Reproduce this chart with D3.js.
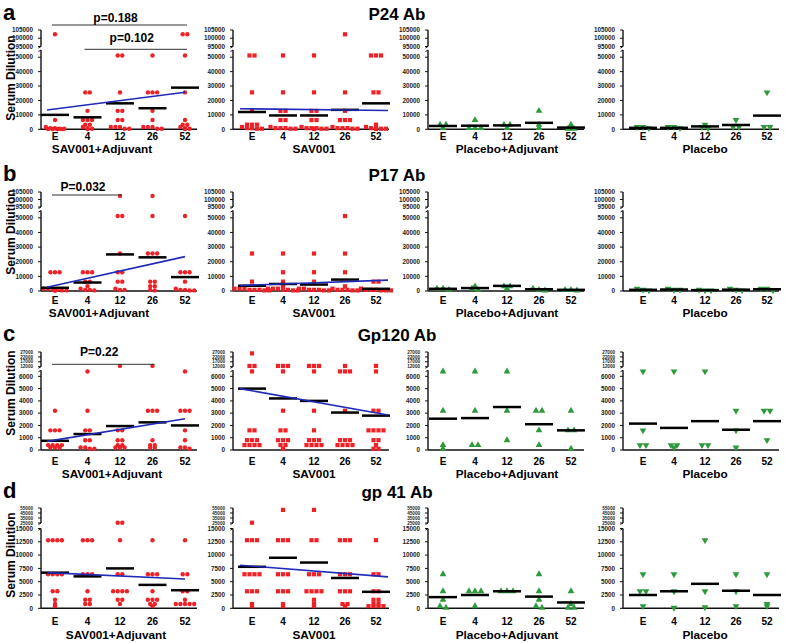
<!DOCTYPE html>
<html>
<head>
<meta charset="utf-8">
<style>
  body { margin: 0; background: #fff; }
  svg { display: block; font-family: "Liberation Sans", Arial, sans-serif; }
</style>
</head>
<body>
<div id="chart"></div>
<script src="https://cdnjs.cloudflare.com/ajax/libs/d3/7.8.5/d3.min.js"></script>
<script>
// ---- data ----
var timepoints = ['E', '4', '12', '26', '52'];
var groups = ['SAV001+Adjuvant', 'SAV001', 'Placebo+Adjuvant', 'Placebo'];
var antibodies = ['P24 Ab', 'P17 Ab', 'Gp120 Ab', 'gp 41 Ab'];
var panelLetters = ['a', 'b', 'c', 'd'];

// values[group][timepoint] = serum dilutions of each subject
var p24Values = [
  [[102400, 6400, 1600, 800, 800, 400, 400, 200, 200, 100, 100],
   [25600, 25600, 12800, 6400, 6400, 6400, 3200, 3200, 1600, 800, 400, 200],
   [51200, 51200, 25600, 12800, 12800, 6400, 6400, 1600, 1600, 1600, 400, 400],
   [51200, 25600, 25600, 25600, 12800, 6400, 1600, 1600, 1600, 400, 400],
   [102400, 102400, 51200, 25600, 6400, 3200, 3200, 1600, 800, 400, 200]],
  [[51200, 51200, 25600, 12800, 3200, 3200, 3200, 1600, 800, 800, 400, 400],
   [51200, 25600, 12800, 12800, 6400, 6400, 1600, 800, 800, 800, 400, 400],
   [51200, 25600, 12800, 12800, 6400, 6400, 1600, 800, 800, 800, 400, 400, 200],
   [102400, 25600, 12800, 6400, 6400, 6400, 1600, 800, 800, 800, 400, 400],
   [51200, 51200, 51200, 25600, 25600, 3200, 1600, 800, 800, 400, 400, 200]],
  [[3200, 3200, 800], [6400, 800, 800, 800], [3200, 3200, 800], [12800, 3200, 800], [3200, 400, 400]],
  [[1600, 1600, 800], [1600, 1600, 800], [3200, 1600, 800], [6400, 1600, 1600], [25600, 1600, 1600]]
];
var p24Means = [[10000, 8300, 18000, 14600, 28900], [12000, 9600, 9600, 13500, 18000],
                [2300, 2500, 2700, 4500, 1200], [1000, 1000, 2000, 3000, 9500]];
var p24Trend = [[13400, 25700], [14300, 13000], null, null];

var p17Values = [
  [[12800, 12800, 12800, 1600, 1600, 800, 800, 400, 400, 200],
   [12800, 12800, 12800, 6400, 6400, 3200, 1600, 800, 800, 400],
   [102400, 51200, 51200, 25600, 12800, 12800, 6400, 6400, 1600, 800, 800],
   [102400, 51200, 25600, 25600, 25600, 6400, 6400, 3200, 3200, 800, 400],
   [51200, 12800, 12800, 12800, 6400, 1600, 800, 800, 400, 400]],
  [[25600, 6400, 1600, 1600, 1600, 800, 800, 800, 400, 400],
   [25600, 12800, 6400, 3200, 1600, 1600, 1600, 800, 800, 400, 400],
   [25600, 12800, 6400, 1600, 1600, 800, 800, 800, 400, 400],
   [51200, 25600, 12800, 3200, 1600, 800, 800, 800, 400, 400],
   [6400, 6400, 1600, 800, 800, 800, 400, 400, 400]],
  [[1600, 1600, 800], [3200, 1600, 800], [3200, 3200, 1600], [1600, 800, 400], [800, 800, 400]],
  [[1600, 800, 400], [1600, 800, 800], [800, 400, 400], [1600, 800, 400], [1600, 1600, 400]]
];
var p17Means = [[2200, 5800, 25000, 23000, 9500], [3600, 4800, 4400, 7800, 1500],
                [1500, 2000, 3500, 1200, 800], [800, 1000, 600, 900, 1200]];
var p17Trend = [[2500, 23500], [3800, 7400], null, null];

var gp120Values = [
  [[3200, 1600, 1600, 1600, 400, 400, 400, 400, 200, 200, 200],
   [6400, 3200, 1600, 1600, 800, 800, 200, 200, 100, 100],
   [12800, 1600, 1600, 800, 800, 400, 400, 200, 200, 200],
   [12800, 3200, 3200, 3200, 800, 400, 400, 200, 200],
   [6400, 3200, 3200, 3200, 1600, 800, 200, 200, 100]],
  [[25600, 12800, 12800, 6400, 1600, 1600, 800, 800, 800, 400, 400, 400, 400],
   [12800, 12800, 12800, 6400, 3200, 1600, 1600, 800, 800, 800, 400, 400, 100],
   [12800, 12800, 12800, 6400, 3200, 1600, 800, 800, 800, 400, 400, 400, 400],
   [12800, 6400, 6400, 6400, 3200, 800, 800, 800, 400, 400, 400, 400],
   [12800, 6400, 3200, 3200, 1600, 1600, 1600, 1600, 800, 800, 400, 100, 100]],
  [[6400, 3200, 400, 100], [6400, 3200, 400, 400], [6400, 3200, 800], [3200, 3200, 1600, 400], [3200, 1600, 1600, 100]],
  [[6400, 1600, 400, 400], [6400, 400, 400, 200], [6400, 400, 400], [3200, 1600, 200], [3200, 3200, 800]]
];
var gp120Means = [[750, 1300, 1950, 2250, 2000], [5000, 4200, 4000, 3050, 2800],
                  [2550, 2600, 3500, 2100, 1600], [2150, 1800, 2350, 1650, 2350]];
var gp120Trend = [[700, 2550], [5000, 2850], null, null];

var gp41Values = [
  [[12800, 12800, 12800, 12800, 6400, 6400, 6400, 6400, 3200, 3200, 1600, 800, 400],
   [12800, 12800, 12800, 6400, 6400, 6400, 3200, 1600, 1600, 800, 800],
   [25600, 25600, 12800, 6400, 6400, 3200, 3200, 3200, 3200, 1600, 1600, 800],
   [12800, 6400, 6400, 6400, 3200, 1600, 1600, 1600, 800, 800, 400],
   [12800, 6400, 6400, 3200, 3200, 1600, 800, 800, 800, 800, 800]],
  [[25600, 12800, 12800, 12800, 6400, 6400, 6400, 6400, 3200, 3200, 3200, 800, 400],
   [51200, 12800, 12800, 12800, 6400, 6400, 6400, 3200, 3200, 3200, 800, 400],
   [51200, 12800, 12800, 6400, 6400, 6400, 3200, 3200, 3200, 3200, 1600, 800, 400],
   [12800, 12800, 12800, 6400, 6400, 6400, 3200, 3200, 3200, 800, 800, 400],
   [12800, 6400, 6400, 3200, 3200, 1600, 1600, 800, 800, 400, 400, 400, 400]],
  [[6400, 3200, 1600, 400, 100], [3200, 3200, 3200, 400], [3200, 3200, 3200], [6400, 3200, 1600, 400, 100], [3200, 800, 100, 100]],
  [[6400, 3200, 3200, 400], [6400, 3200, 100], [12800, 3200, 200], [6400, 3200, 400], [6400, 800, 400]]
];
var gp41Means = [[6700, 6000, 7500, 4400, 3400], [7800, 9500, 8600, 5700, 3100],
                 [2100, 2500, 3200, 2200, 1100], [2500, 3200, 4600, 3300, 2500]];
var gp41Trend = [[6700, 5500], [8100, 5900], null, null];

// broken y axis: [top of lower part, bottom of upper part, top of upper part]
var yBreaks = [[55000, 95000, 105000], [55000, 95000, 105000], [6500, 12000, 27000], [15000, 25000, 55000]];
var lowerTicks = [[0, 10000, 20000, 30000, 40000, 50000], [0, 10000, 20000, 30000, 40000, 50000],
                  [0, 1000, 2000, 3000, 4000, 5000, 6000], [0, 2500, 5000, 7500, 10000, 12500, 15000]];
var upperTicks = [[95000, 100000, 105000], [95000, 100000, 105000],
                  [12000, 17000, 22000, 27000], [25000, 35000, 45000, 55000]];

// significance brackets (first panel of a row)
var pBrackets = [
  [{text: 'p=0.188', from: 'E', to: '52', level: 0}, {text: 'p=0.102', from: '4', to: '52', level: 1}],
  [{text: 'P=0.032', from: 'E', to: '12', level: 0}],
  [{text: 'P=0.22', from: 'E', to: '26', level: 0}],
  []
];

var rowValues = [p24Values, p17Values, gp120Values, gp41Values];
var rowMeans = [p24Means, p17Means, gp120Means, gp41Means];
var rowTrends = [p24Trend, p17Trend, gp120Trend, gp41Trend];

// ---- layout ----
var width = 785, height = 643;
var rows = [
  {y0: 129.3, lowTop: 50, upBot: 46.5, upTop: 30, title: 20, tick: 140, group: 153, groupX: 102, ylab: 78,
   brLine: [25, 49.3], brText: [22, 42], upFont: 6.3},
  {y0: 291, lowTop: 210.5, upBot: 207, upTop: 192, title: 181, tick: 303.5, group: 317, groupX: 99, ylab: 232,
   brLine: [195], brText: [191], upFont: 6.3},
  {y0: 450, lowTop: 370.2, upBot: 366.7, upTop: 352, title: 341, tick: 464.5, group: 478, groupX: 112, ylab: 393,
   brLine: [364.3], brText: [356], upFont: 4.6},
  {y0: 608.3, lowTop: 528.5, upBot: 523, upTop: 508, title: 498, tick: 625, group: 639, groupX: 116, ylab: 555,
   brLine: [], brText: [], upFont: 4.6}
];
var colAxisX = [41, 233, 428, 623];
var colFirst = [14, 19, 15, 20];
var colStep = [32.5, 31, 32, 31];
var red = '#ee2127', green = '#2e9a3c', blue = '#1f2bb8';

var svg = d3.select('#chart').append('svg')
  .attr('width', width)
  .attr('height', height);

// spread equal-ish values side by side, like a column scatter
function swarm(vals, y, spacing) {
  var sorted = vals.slice().sort(function (a, b) { return b - a; });
  var bins = [];
  sorted.forEach(function (v) {
    var py = y(v);
    var last = bins[bins.length - 1];
    if (!last || Math.abs(last.y - py) >= 2) {
      last = {y: py, items: []};
      bins.push(last);
    }
    last.items.push(v);
  });
  var out = [];
  bins.forEach(function (b) {
    b.items.forEach(function (v, i) {
      out.push({v: v, dx: (i - (b.items.length - 1) / 2) * spacing});
    });
  });
  return out;
}

rows.forEach(function (L, r) {
  var g = svg.append('g');

  g.append('text')
    .attr('x', 3).attr('y', L.title)
    .attr('font-size', 22).attr('font-weight', 'bold')
    .text(panelLetters[r]);

  g.append('text')
    .attr('x', 397).attr('y', L.title)
    .attr('text-anchor', 'middle')
    .attr('font-size', 17).attr('font-weight', 'bold')
    .text(antibodies[r]);

  g.append('text')
    .attr('transform', 'translate(15,' + L.ylab + ') rotate(-90)')
    .attr('text-anchor', 'middle')
    .attr('font-size', 12).attr('font-weight', 'bold')
    .text('Serum Dilution');

  var b = yBreaks[r];
  var y = d3.scaleLinear()
    .domain([0, b[0], b[1], b[2]])
    .range([L.y0, L.lowTop, L.upBot, L.upTop]);

  groups.forEach(function (grp, c) {
    var ax = colAxisX[c];
    var x = d3.scalePoint()
      .domain(timepoints)
      .range([ax + colFirst[c], ax + colFirst[c] + 4 * colStep[c]]);
    var p = g.append('g');

    // y axis, two pieces
    p.append('line').attr('x1', ax).attr('x2', ax).attr('y1', L.y0).attr('y2', L.lowTop)
      .attr('stroke', '#111').attr('stroke-width', 1.4);
    p.append('line').attr('x1', ax).attr('x2', ax).attr('y1', L.upBot).attr('y2', L.upTop)
      .attr('stroke', '#111').attr('stroke-width', 1.4);
    // break hooks
    p.append('path')
      .attr('d', 'M' + (ax - 2.5) + ',' + (L.lowTop + 1.5) + 'L' + ax + ',' + L.lowTop +
                 'M' + ax + ',' + L.upBot + 'L' + (ax - 2.5) + ',' + (L.upBot + 1.5))
      .attr('fill', 'none').attr('stroke', '#111').attr('stroke-width', 1);

    var ticks = upperTicks[r].concat(lowerTicks[r]);
    p.selectAll('.tk').data(ticks).enter().append('line')
      .attr('x1', ax - 3).attr('x2', ax)
      .attr('y1', function (d) { return y(d); })
      .attr('y2', function (d) { return y(d); })
      .attr('stroke', '#111').attr('stroke-width', 1);
    p.selectAll('.tl').data(ticks).enter().append('text')
      .attr('x', ax - 8)
      .attr('y', function (d) { return y(d); })
      .attr('dy', '0.35em')
      .attr('text-anchor', 'end')
      .attr('font-size', function (d) { return d > b[0] ? L.upFont : 6.3; })
      .attr('font-weight', 'bold').attr('fill', '#222')
      .text(function (d) { return d; });

    // x axis
    p.append('line').attr('x1', ax).attr('x2', ax + 156).attr('y1', L.y0).attr('y2', L.y0)
      .attr('stroke', '#111').attr('stroke-width', 1.5);
    p.selectAll('.xl').data(timepoints).enter().append('text')
      .attr('x', function (d) { return x(d); })
      .attr('y', L.tick)
      .attr('text-anchor', 'middle')
      .attr('font-size', 10).attr('font-weight', 'bold')
      .text(function (d) { return d; });
    p.append('text')
      .attr('x', c === 0 ? L.groupX : x('12'))
      .attr('y', L.group)
      .attr('text-anchor', 'middle')
      .attr('font-size', 11.8).attr('font-weight', 'bold')
      .text(grp);

    // points
    var spacing = c === 0 ? 4.6 : c === 1 ? 5 : 6;
    timepoints.forEach(function (t, ti) {
      var pts = swarm(rowValues[r][c][ti], y, spacing);
      var sel = p.selectAll('.pt' + ti).data(pts).enter();
      if (c === 0) {
        sel.append('circle')
          .attr('cx', function (d) { return x(t) + d.dx; })
          .attr('cy', function (d) { return y(d.v); })
          .attr('r', 2.2).attr('fill', red);
      } else if (c === 1) {
        sel.append('rect')
          .attr('x', function (d) { return x(t) + d.dx - 2.1; })
          .attr('y', function (d) { return y(d.v) - 2.1; })
          .attr('width', 4.2).attr('height', 4.2).attr('fill', red);
      } else {
        var sym = d3.symbol().type(d3.symbolTriangle).size(20);
        sel.append('path')
          .attr('d', sym)
          .attr('transform', function (d) {
            return 'translate(' + (x(t) + d.dx) + ',' + y(d.v) + ')' + (c === 3 ? ' rotate(180)' : '');
          })
          .attr('fill', green);
      }
    });

    // group means
    p.selectAll('.mean').data(rowMeans[r][c]).enter().append('line')
      .attr('x1', function (d, i) { return x(timepoints[i]) - 14; })
      .attr('x2', function (d, i) { return x(timepoints[i]) + 14; })
      .attr('y1', function (d) { return y(d); })
      .attr('y2', function (d) { return y(d); })
      .attr('stroke', '#000').attr('stroke-width', 2.5);

    // trend line
    var tr = rowTrends[r][c];
    if (tr) {
      var padL = c === 0 ? 8 : 12, padR = c === 0 ? 0 : 12;
      p.append('line')
        .attr('x1', x('E') - padL).attr('x2', x('52') + padR)
        .attr('y1', y(tr[0])).attr('y2', y(tr[1]))
        .attr('stroke', blue).attr('stroke-width', 1.6);
    }

    // significance brackets
    if (c === 0) {
      pBrackets[r].forEach(function (bk) {
        var x1 = x(bk.from) - 3, x2 = x(bk.to) + 2;
        p.append('line')
          .attr('x1', x1).attr('x2', x2)
          .attr('y1', L.brLine[bk.level]).attr('y2', L.brLine[bk.level])
          .attr('stroke', '#333').attr('stroke-width', 1);
        p.append('text')
          .attr('x', (x1 + x2) / 2 - 4)
          .attr('y', L.brText[bk.level])
          .attr('text-anchor', 'middle')
          .attr('font-size', 12).attr('font-weight', 'bold')
          .text(bk.text);
      });
    }
  });
});
</script>
</body>
</html>
